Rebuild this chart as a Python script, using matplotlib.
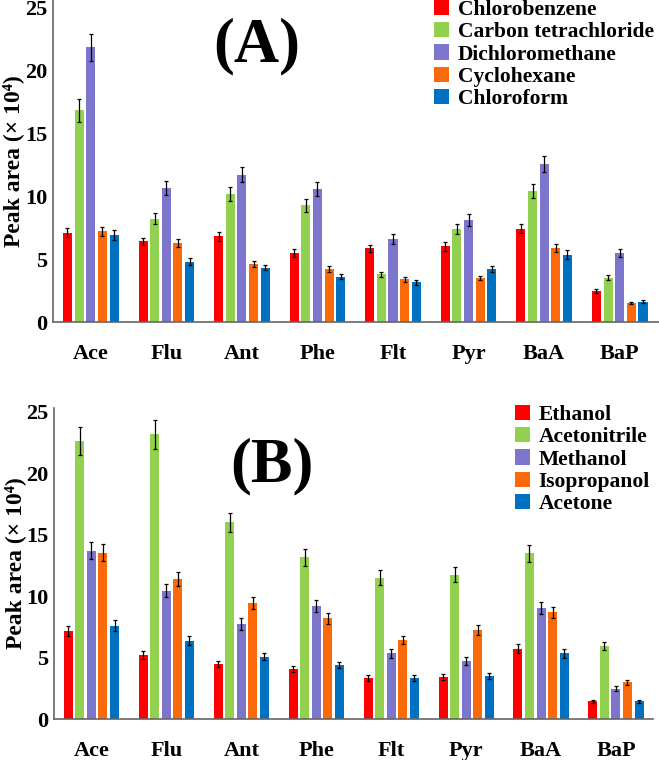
import numpy as np
import matplotlib
matplotlib.use('Agg')
import matplotlib.pyplot as plt
from matplotlib.patches import Patch

# PAH compounds on the x axis
pahs = ['Ace', 'Flu', 'Ant', 'Phe', 'Flt', 'Pyr', 'BaA', 'BaP']

# Panel A: extraction solvents
solvents_a = ['Chlorobenzene', 'Carbon tetrachloride', 'Dichloromethane',
              'Cyclohexane', 'Chloroform']
chlorobenzene = [7.1, 6.4, 6.8, 5.5, 5.85, 6.0, 7.4, 2.45]
carbon_tet = [16.8, 8.2, 10.15, 9.25, 3.8, 7.35, 10.4, 3.5]
dichloromethane = [21.8, 10.65, 11.7, 10.55, 6.6, 8.1, 12.55, 5.5]
cyclohexane = [7.2, 6.25, 4.6, 4.2, 3.4, 3.5, 5.85, 1.5]
chloroform = [6.9, 4.8, 4.3, 3.6, 3.15, 4.2, 5.35, 1.6]
err_a = [
    [0.37, 0.3, 0.37, 0.3, 0.3, 0.33, 0.37, 0.18],
    [0.9, 0.45, 0.53, 0.53, 0.2, 0.4, 0.58, 0.2],
    [1.1, 0.58, 0.6, 0.56, 0.37, 0.45, 0.66, 0.32],
    [0.35, 0.33, 0.25, 0.22, 0.2, 0.18, 0.33, 0.1],
    [0.37, 0.27, 0.21, 0.18, 0.2, 0.21, 0.33, 0.12],
]

# Panel B: dispersive solvents
solvents_b = ['Ethanol', 'Acetonitrile', 'Methanol', 'Isopropanol', 'Acetone']
ethanol = [7.15, 5.2, 4.5, 4.1, 3.35, 3.45, 5.75, 1.45]
acetonitrile = [22.6, 23.15, 16.0, 13.15, 11.5, 11.75, 13.5, 5.95]
methanol = [13.7, 10.45, 7.75, 9.2, 5.35, 4.75, 9.05, 2.5]
isopropanol = [13.55, 11.4, 9.45, 8.2, 6.45, 7.25, 8.7, 3.0]
acetone = [7.6, 6.4, 5.1, 4.4, 3.35, 3.55, 5.35, 1.45]
err_b = [
    [0.4, 0.33, 0.27, 0.27, 0.27, 0.24, 0.35, 0.1],
    [1.14, 1.17, 0.8, 0.68, 0.62, 0.62, 0.68, 0.3],
    [0.7, 0.54, 0.46, 0.49, 0.35, 0.3, 0.51, 0.18],
    [0.7, 0.57, 0.49, 0.46, 0.35, 0.41, 0.46, 0.18],
    [0.43, 0.38, 0.27, 0.27, 0.27, 0.24, 0.35, 0.1],
]

colors = ['#FF0000', '#92D050', '#7B75CC', '#FA6A0A', '#0070C0']

plt.rcParams['font.family'] = ['Liberation Serif', 'DejaVu Serif']
plt.rcParams['font.weight'] = 'bold'


def draw_panel(ax, series, errors, names, tag, ytop, xmax, tag_xy, leg_xy):
    x = np.arange(len(pahs))
    step = 0.154
    width = 0.12
    for i, (vals, errs) in enumerate(zip(series, errors)):
        ax.bar(x + (i - 2) * step, vals, width=width, color=colors[i],
               yerr=errs, error_kw=dict(ecolor='black', elinewidth=0.9,
                                        capsize=1.5, capthick=0.9))
    ax.set_xlim(-0.5, xmax)
    ax.set_ylim(0, ytop)
    ax.set_xticks(x)
    ax.set_xticklabels(pahs, fontsize=16, fontweight='bold')
    ax.set_yticks([0, 5, 10, 15, 20, 25])
    ax.set_yticklabels(['0', '5', '10', '15', '20', '25'], fontsize=16, fontweight='bold')
    ax.tick_params(axis='y', length=0, pad=4)
    ax.tick_params(axis='x', length=0, pad=16)
    for side in ['top', 'right']:
        ax.spines[side].set_visible(False)
    for side in ['left', 'bottom']:
        ax.spines[side].set_color('#666666')
        ax.spines[side].set_linewidth(1.2)
    ax.set_ylabel('Peak area (\u00d7 10\u2074)', fontsize=17, fontweight='bold')
    ax.yaxis.set_label_coords(-0.047, 0.5)
    ax.text(tag_xy[0], tag_xy[1], tag, transform=ax.figure.transFigure,
            fontsize=45, fontweight='bold', ha='center', va='center')
    handles = [Patch(facecolor=c) for c in colors]
    ax.legend(handles, names, loc='upper left', bbox_to_anchor=leg_xy,
              bbox_transform=ax.figure.transFigure, frameon=False,
              prop={'size': 15.5, 'weight': 'bold'}, handlelength=0.7,
              handleheight=0.7, handletextpad=0.4, labelspacing=0.1,
              borderpad=0, borderaxespad=0)


fig = plt.figure(figsize=(6.59, 7.60), dpi=100)
ax_a = fig.add_axes([0.0804, 0.5763, 0.9196, 0.4237])
ax_b = fig.add_axes([0.0819, 0.0536, 0.9085, 0.4100])

draw_panel(ax_a, [chlorobenzene, carbon_tet, dichloromethane, cyclohexane, chloroform],
           err_a, solvents_a, '(A)', 25.56, 7.52, (257 / 659, 1 - 46 / 760),
           (434 / 659, 1 - 0 / 760))
draw_panel(ax_b, [ethanol, acetonitrile, methanol, isopropanol, acetone],
           err_b, solvents_b, '(B)', 25.33, 7.49, (272 / 659, 1 - 466 / 760),
           (515 / 659, 1 - 405 / 760))

fig.savefig('out.png', dpi=100, facecolor='white')
